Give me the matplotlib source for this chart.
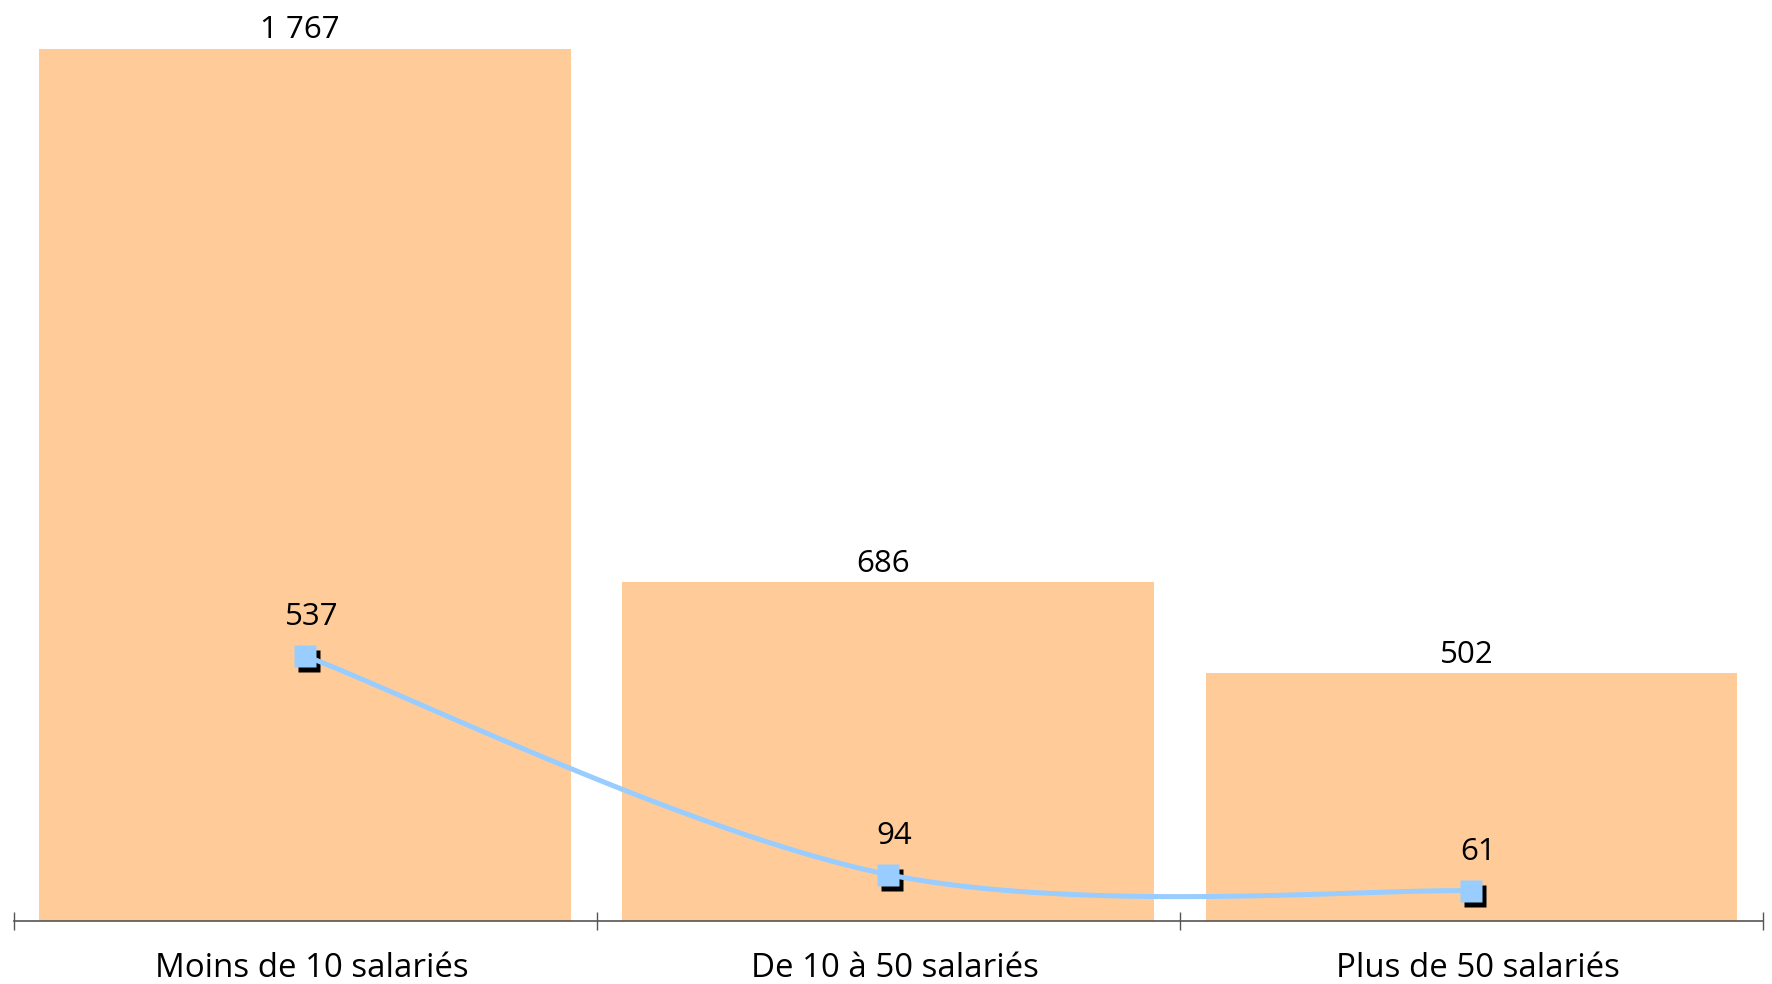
import numpy as np
import matplotlib
matplotlib.use('Agg')
import matplotlib.pyplot as plt
from matplotlib.transforms import offset_copy

categories = ["Moins de 10 salariés", "De 10 à 50 salariés", "Plus de 50 salariés"]
bar_values = [1767, 686, 502]
line_values = [537, 94, 61]
bar_labels = ["1 767", "686", "502"]
line_labels = ["537", "94", "61"]

plt.rcParams['font.family'] = ['Open Sans', 'DejaVu Sans']

W, H = 1772, 984
fig = plt.figure(figsize=(W / 100, H / 100), dpi=100)
ax = fig.add_axes([13.6 / W, 63 / H, (1763 - 13.6) / W, 921 / H])

x = np.arange(len(categories))
ax.bar(x, bar_values, width=0.912, color='#FFCC99', zorder=1)
ax.set_xlim(-0.5, len(categories) - 0.5)
ax.set_ylim(0, 1866)


def smooth(xs, ys, n=60):
    pts = np.column_stack([xs, ys]).astype(float)
    out = []
    m = len(pts)
    for i in range(m - 1):
        p0 = pts[i - 1] if i > 0 else pts[i]
        p1 = pts[i]
        p2 = pts[i + 1]
        p3 = pts[i + 2] if i + 2 < m else pts[i + 1]
        c1 = p1 + (p2 - p0) / 6.0
        c2 = p2 - (p3 - p1) / 6.0
        t = np.linspace(0, 1, n)[:, None]
        seg = ((1 - t) ** 3) * p1 + 3 * ((1 - t) ** 2) * t * c1 + 3 * (1 - t) * t ** 2 * c2 + t ** 3 * p2
        out.append(seg if i == 0 else seg[1:])
    out = np.vstack(out)
    return out[:, 0], out[:, 1]


sx, sy = smooth(x, line_values)
ax.plot(sx, sy, color='#99CCFF', lw=3.6, zorder=3, solid_capstyle='round')
shadow = offset_copy(ax.transData, fig=fig, x=4, y=-5, units='dots')
ax.plot(x, line_values, 's', ms=16.5, color='black', mec='none', transform=shadow, zorder=2.5)
ax.plot(x, line_values, 's', ms=16.5, color='#99CCFF', mec='none', zorder=4)

for xi, v, lab in zip(x, bar_values, bar_labels):
    ax.annotate(lab, (xi, v), xytext=(-3.6, 7.6), textcoords='offset points',
                ha='center', va='baseline', fontsize=22.5, color='black')
for xi, v, lab in zip(x, line_values, line_labels):
    ax.annotate(lab, (xi, v), xytext=(4.5, 22), textcoords='offset points',
                ha='center', va='baseline', fontsize=22.5, color='black', zorder=5)
for xi, lab in zip(x, categories):
    ax.annotate(lab, (xi, 0), xytext=(5, -40), textcoords='offset points',
                ha='center', va='baseline', fontsize=23.8, color='black',
                annotation_clip=False)

for s in ['top', 'right', 'left']:
    ax.spines[s].set_visible(False)
ax.spines['bottom'].set_color('#555555')
ax.spines['bottom'].set_linewidth(1.2)
ax.spines['bottom'].set_zorder(6)
ax.set_yticks([])
ax.set_xticks(np.arange(len(categories) + 1) - 0.5)
ax.set_xticklabels([])
ax.tick_params(axis='x', which='major', direction='inout', length=13, width=1, color='#555555')

fig.savefig('out.png', dpi=100, facecolor='white')
